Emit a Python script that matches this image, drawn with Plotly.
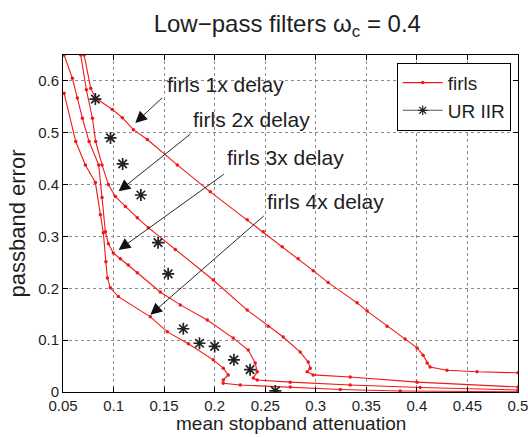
import plotly.graph_objects as go

# ---- data ----
firls1_x = [0.0709, 0.0774, 0.0823, 0.0988, 0.1087, 0.1196, 0.1334, 0.1630, 0.1957, 0.2322,
            0.2480, 0.2668, 0.2826, 0.2975, 0.3123, 0.3409, 0.3508, 0.3705, 0.3883, 0.4002,
            0.4061, 0.4101, 0.4130, 0.4298, 0.4595, 0.5000]
firls1_y = [0.650, 0.586, 0.567, 0.545, 0.529, 0.506, 0.487, 0.438, 0.386, 0.332,
            0.309, 0.280, 0.257, 0.234, 0.211, 0.172, 0.156, 0.127, 0.102, 0.085,
            0.071, 0.056, 0.048, 0.042, 0.039, 0.037]

firls2_x = [0.0675, 0.0731, 0.0791, 0.0823, 0.0886, 0.0949, 0.1018, 0.1117, 0.1235, 0.1344,
            0.1611, 0.1986, 0.2322, 0.2530, 0.2678, 0.2846, 0.2925, 0.2945, 0.2915, 0.2974,
            0.3340, 0.4002, 0.5000]
firls2_y = [0.650, 0.583, 0.528, 0.483, 0.438, 0.400, 0.377, 0.358, 0.336, 0.317,
            0.275, 0.216, 0.158, 0.127, 0.106, 0.077, 0.058, 0.046, 0.039, 0.033,
            0.029, 0.019, 0.0097]

firls3_x = [0.0511, 0.0593, 0.0642, 0.0692, 0.0758, 0.0853, 0.0886, 0.0919, 0.0949, 0.0998,
            0.1067, 0.1146, 0.1235, 0.1462, 0.1660, 0.1927, 0.2184, 0.2332, 0.2401, 0.2421,
            0.2382, 0.2421, 0.2747, 0.3340, 0.4032, 0.5000]
firls3_y = [0.650, 0.605, 0.567, 0.528, 0.483, 0.438, 0.375, 0.309, 0.286, 0.268,
            0.257, 0.245, 0.230, 0.193, 0.168, 0.139, 0.104, 0.081, 0.056, 0.039,
            0.027, 0.023, 0.019, 0.0135, 0.0087, 0.004]

firls4_x = [0.0511, 0.0626, 0.0721, 0.0820, 0.0870, 0.0899, 0.0924, 0.0939, 0.0968, 0.1047,
            0.1364, 0.1532, 0.1740, 0.1986, 0.2085, 0.2134, 0.2085, 0.2085, 0.2253, 0.2747,
            0.3242, 0.3835, 0.5000]
firls4_y = [0.576, 0.483, 0.438, 0.404, 0.342, 0.307, 0.251, 0.220, 0.201, 0.184,
            0.145, 0.116, 0.093, 0.062, 0.046, 0.033, 0.023, 0.017, 0.0135, 0.0097,
            0.0048, 0.0019, 0.0005]

uriir_x = [0.082, 0.097, 0.109, 0.127, 0.144, 0.154, 0.169, 0.185, 0.200, 0.219, 0.235, 0.260]
uriir_y = [0.565, 0.490, 0.440, 0.380, 0.288, 0.228, 0.122, 0.094, 0.088, 0.062, 0.043, 0.002]

x_ticks = [0.05, 0.1, 0.15, 0.2, 0.25, 0.3, 0.35, 0.4, 0.45, 0.5]
x_tick_labels = ["0.05", "0.1", "0.15", "0.2", "0.25", "0.3", "0.35", "0.4", "0.45", "0.5"]
y_ticks = [0, 0.1, 0.2, 0.3, 0.4, 0.5, 0.6]
y_tick_labels = ["0", "0.1", "0.2", "0.3", "0.4", "0.5", "0.6"]

labels = ["firls 1x delay", "firls 2x delay", "firls 3x delay", "firls 4x delay"]
label_pos = [(0.1506, 0.593), (0.1769, 0.525), (0.2105, 0.452), (0.2500, 0.367)]
arrow_tail = [(0.1495, 0.570), (0.1776, 0.500), (0.2105, 0.422), (0.2500, 0.342)]
arrow_head = [(0.1215, 0.519), (0.1050, 0.387), (0.1050, 0.274), (0.1364, 0.149)]

FONT = "Liberation Sans, Arial, Helvetica, sans-serif"
RED = "#f01818"
TXT = "#1e1e1e"

fig = go.Figure()
curves = [(firls1_x, firls1_y), (firls2_x, firls2_y), (firls3_x, firls3_y), (firls4_x, firls4_y)]
for i, (cx, cy) in enumerate(curves):
    fig.add_trace(go.Scatter(
        x=cx, y=cy, mode="lines+markers", name="firls",
        line=dict(color=RED, width=1.1),
        marker=dict(color=RED, size=3.5, symbol="circle"),
        legendgroup="firls", showlegend=(i == 0), cliponaxis=True))

fig.add_trace(go.Scatter(
    x=uriir_x, y=uriir_y, mode="markers", name="UR IIR", showlegend=False,
    marker=dict(symbol="asterisk-open", size=10, color="#222222",
                line=dict(color="#222222", width=1.7))))
# legend entry for UR IIR (line + asterisk, as in the reference)
fig.add_trace(go.Scatter(
    x=[None], y=[None], mode="lines+markers", name="UR IIR",
    line=dict(color="#555555", width=1.1),
    marker=dict(symbol="asterisk-open", size=8, color="#222222",
                line=dict(color="#222222", width=1.2))))

for txt, (tx, ty), (ax, ay), (hx, hy) in zip(labels, label_pos, arrow_tail, arrow_head):
    fig.add_annotation(x=tx, y=ty, xref="x", yref="y", text=txt, showarrow=False,
                       xanchor="left", yanchor="middle",
                       font=dict(family=FONT, size=21, color=TXT))
    fig.add_annotation(x=hx, y=hy, xref="x", yref="y", ax=ax, ay=ay,
                       axref="x", ayref="y", text="", showarrow=True,
                       arrowhead=2, arrowsize=2.6, arrowwidth=0.9, arrowcolor="#111111")

# x-axis title placed just below the tick labels
fig.add_annotation(x=0.5, y=-0.129, xref="paper", yref="paper",
                   text="mean stopband attenuation", showarrow=False,
                   xanchor="center", yanchor="bottom", borderpad=0,
                   font=dict(family=FONT, size=19, color=TXT))

axis_common = dict(showline=True, linecolor="black", linewidth=1, mirror="ticks",
                   ticks="inside", ticklen=5, tickcolor="black", automargin=False,
                   ticklabeloverflow="allow",
                   showgrid=True, gridcolor="#8a8a8a", griddash="dot", gridwidth=1,
                   zeroline=False, tickfont=dict(family=FONT, size=15, color=TXT))

fig.update_xaxes(range=[0.05, 0.5], tickvals=x_ticks, ticktext=x_tick_labels,
                 ticklabelstandoff=0, **axis_common)
fig.update_yaxes(range=[0, 0.65], tickvals=y_ticks, ticktext=y_tick_labels,
                 title=dict(text="passband error", standoff=6,
                            font=dict(family=FONT, size=22, color=TXT)),
                 **axis_common)

fig.update_layout(
    width=528, height=437,
    margin=dict(l=63, r=10, t=55, b=45),
    paper_bgcolor="white", plot_bgcolor="white",
    title=dict(text="Low\u2212pass filters \u03c9<sub>c</sub> = 0.4", x=0.493, xref="paper",
               y=0.945, yref="container", xanchor="center", yanchor="middle",
               font=dict(family=FONT, size=24, color=TXT)),
    legend=dict(x=0.984, y=0.977, xanchor="right", yanchor="top",
                bgcolor="white", bordercolor="black", borderwidth=1,
                font=dict(family=FONT, size=19, color=TXT),
                itemwidth=40, tracegroupgap=0),
    showlegend=True,
)

fig.write_html("out.html")
